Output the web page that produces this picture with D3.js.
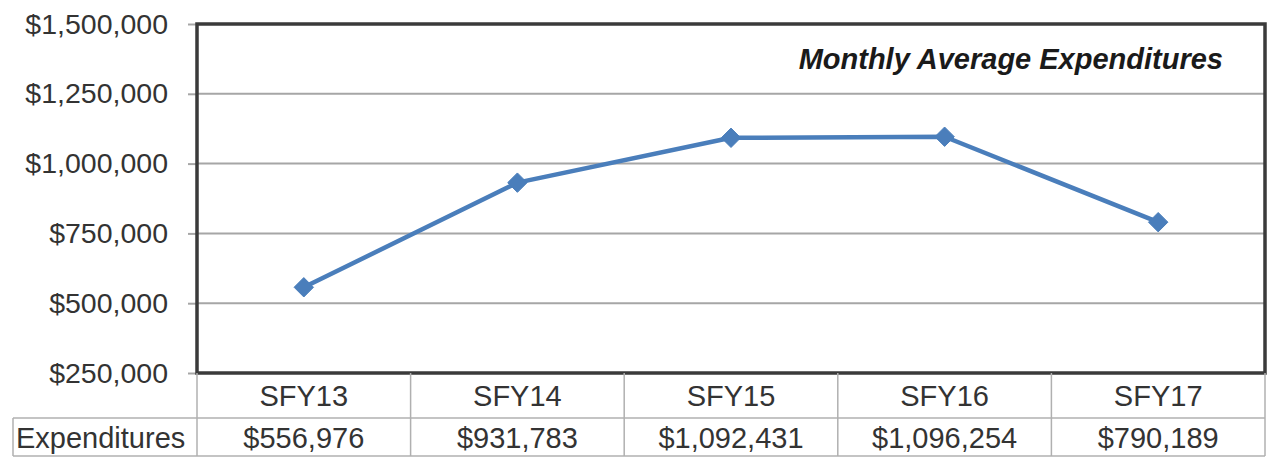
<!DOCTYPE html>
<html>
<head>
<meta charset="utf-8">
<script src="https://cdn.jsdelivr.net/npm/d3@7"></script>
<style>
  body { margin: 0; background: #fff; }
  svg { display: block; font-family: "Liberation Sans", Arial, sans-serif; }
</style>
</head>
<body>
<div id="chart"></div>
<script>
// Data
const years = ['SFY13', 'SFY14', 'SFY15', 'SFY16', 'SFY17'];
const expenditures = [556976, 931783, 1092431, 1096254, 790189];
const y_ticks = [250000, 500000, 750000, 1000000, 1250000, 1500000];
const row_label = 'Expenditures';
const chart_title = 'Monthly Average Expenditures';

const C = {
  width: 1271,
  height: 458,
  margin: {left: 197, right: 6, top: 24, bottom: 85},
  axis_font: 28.5,
  table_font: 29,
  title_font: 29,
  line_color: '#4a7ebb',
  grid_color: '#a6a6a6',
  border_color: '#3a3a3a',
  table_color: '#b0b0b0',
  text_color: '#333',
};

const plot_w = C.width - C.margin.left - C.margin.right;
const plot_h = C.height - C.margin.top - C.margin.bottom;

const svg = d3.select('#chart').append('svg')
  .attr('width', C.width)
  .attr('height', C.height);

const g = svg.append('g')
  .attr('transform', `translate(${C.margin.left},${C.margin.top})`);

// scales
const X = d3.scaleBand().domain(years).range([0, plot_w]);
const Y = d3.scaleLinear().domain([250000, 1500000]).range([plot_h, 0]);
const money = d3.format('$,');

// y labels + little ticks via axis
const y_axis = g.append('g')
  .call(d3.axisLeft(Y).tickValues(y_ticks).tickFormat(money).tickSize(9).tickPadding(20));
y_axis.select('.domain').remove();
y_axis.selectAll('line').attr('stroke', C.grid_color).attr('stroke-width', 2);
y_axis.selectAll('text')
  .attr('fill', C.text_color)
  .style('font-size', C.axis_font + 'px')
  .style('font-family', '"Liberation Sans", Arial, sans-serif');

// gridlines
g.append('g')
  .selectAll('line')
  .data(y_ticks.slice(1, -1))
  .join('line')
  .attr('x1', 0)
  .attr('x2', plot_w)
  .attr('y1', d => Y(d))
  .attr('y2', d => Y(d))
  .attr('stroke', C.grid_color)
  .attr('stroke-width', 2);

// plot border
g.append('rect')
  .attr('width', plot_w)
  .attr('height', plot_h)
  .attr('fill', 'none')
  .attr('stroke', C.border_color)
  .attr('stroke-width', 3.5);

// title
g.append('text')
  .attr('x', plot_w - 42)
  .attr('y', 45)
  .attr('text-anchor', 'end')
  .attr('fill', '#1a1a1a')
  .style('font-size', C.title_font + 'px')
  .style('font-weight', 'bold')
  .style('font-style', 'italic')
  .text(chart_title);

// line + diamond markers
const cx = d => X(d) + X.bandwidth() / 2;
const points = years.map((y, i) => ({year: y, value: expenditures[i]}));

g.append('path')
  .datum(points)
  .attr('fill', 'none')
  .attr('stroke', C.line_color)
  .attr('stroke-width', 4.5)
  .attr('stroke-linejoin', 'round')
  .attr('d', d3.line().x(d => cx(d.year)).y(d => Y(d.value)));

g.selectAll('.marker')
  .data(points)
  .join('path')
  .attr('class', 'marker')
  .attr('transform', d => `translate(${cx(d.year)},${Y(d.value)})`)
  .attr('d', d3.symbol(d3.symbolDiamond2, 240)())
  .attr('fill', C.line_color)
  .attr('stroke', C.line_color)
  .attr('stroke-width', 1);

// data table below the plot
const row1_top = plot_h;
const row2_top = plot_h + 45;
const row2_bot = plot_h + 83;
const label_left = 13 - C.margin.left;

const table = g.append('g')
  .attr('stroke', C.table_color)
  .attr('stroke-width', 1.5);

// horizontal rules
table.append('line')
  .attr('x1', label_left).attr('x2', plot_w)
  .attr('y1', row2_top).attr('y2', row2_top);
table.append('line')
  .attr('x1', label_left).attr('x2', plot_w)
  .attr('y1', row2_bot).attr('y2', row2_bot);

// vertical rules
const col_edges = years.map(y => X(y)).concat([plot_w]);
table.selectAll('.vrule')
  .data(col_edges)
  .join('line')
  .attr('class', 'vrule')
  .attr('x1', d => d).attr('x2', d => d)
  .attr('y1', row1_top).attr('y2', row2_bot);
table.append('line')
  .attr('x1', label_left).attr('x2', label_left)
  .attr('y1', row2_top).attr('y2', row2_bot);

const cell_text = g.append('g')
  .attr('fill', C.text_color)
  .attr('text-anchor', 'middle')
  .style('font-size', C.table_font + 'px');

cell_text.selectAll('.cat')
  .data(years)
  .join('text')
  .attr('class', 'cat')
  .attr('x', cx)
  .attr('y', row1_top + 33)
  .text(d => d);

cell_text.selectAll('.val')
  .data(points)
  .join('text')
  .attr('class', 'val')
  .attr('x', d => cx(d.year))
  .attr('y', row2_top + 30)
  .text(d => money(d.value));

cell_text.append('text')
  .attr('x', label_left + 3)
  .attr('y', row2_top + 30)
  .attr('text-anchor', 'start')
  .text(row_label);
</script>
</body>
</html>
